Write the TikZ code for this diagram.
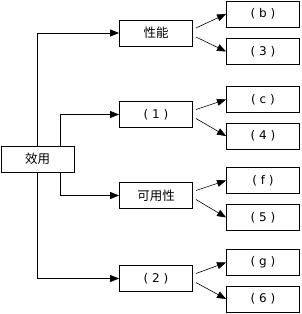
\documentclass[tikz,border=0pt]{standalone}
\usepackage{fontspec}
\setmainfont{DejaVu Sans}
\newfontfamily\cjk{Noto Sans CJK SC}
\usetikzlibrary{arrows.meta}

\begin{document}
\begin{tikzpicture}[
  x=1pt, y=-1pt,
  box/.style={
    rectangle, draw=black, line width=0.9pt,
    minimum width=73pt, minimum height=26pt,
    inner sep=0pt, font=\cjk\fontsize{12.5}{14}\selectfont
  },
  leaf/.style={box, font=\fontsize{12}{14}\selectfont},
  link/.style={-{Triangle[length=9pt,width=7pt]}, line width=0.8pt},
  fork/.style={-{Triangle[length=9pt,width=7pt]}, line width=0.6pt},
]

\useasboundingbox (0,0) rectangle (302,314);

%% Root
\node[box] (root) at (37.5, 159) {效用};

%% Middle level
\node[box]  (perf)  at (156, 33)    {性能};
\node[leaf] (m1)    at (156, 114.5) {( 1 )};
\node[box]  (avail) at (156, 195.5) {可用性};
\node[leaf] (m2)    at (156, 278.5) {( 2 )};

%% Leaves
\node[leaf] (lb) at (263, 14)    {( b )};
\node[leaf] (l3) at (263, 51.5)  {( 3 )};
\node[leaf] (lc) at (263, 99.5)  {( c )};
\node[leaf] (l4) at (263, 136)   {( 4 )};
\node[leaf] (lf) at (263, 180.5) {( f )};
\node[leaf] (l5) at (263, 217.5) {( 5 )};
\node[leaf] (lg) at (263, 262.5) {( g )};
\node[leaf] (l6) at (263, 299)   {( 6 )};

%% Root connectors
\draw[link] (root.north) |- (perf.west);
\draw[link] ([xshift=22.5pt]root.north) |- (m1.west);
\draw[link] ([xshift=22.5pt]root.south) |- (avail.west);
\draw[link] (root.south) |- (m2.west);

%% Forks
\foreach \m/\a/\b in {perf/lb/l3, m1/lc/l4, avail/lf/l5, m2/lg/l6}{
  \draw[fork] ([xshift=3pt,yshift=5pt]\m.east) -- (\a.west);
  \draw[fork] ([xshift=3pt,yshift=-4pt]\m.east) -- (\b.west);
}

\end{tikzpicture}
\end{document}
